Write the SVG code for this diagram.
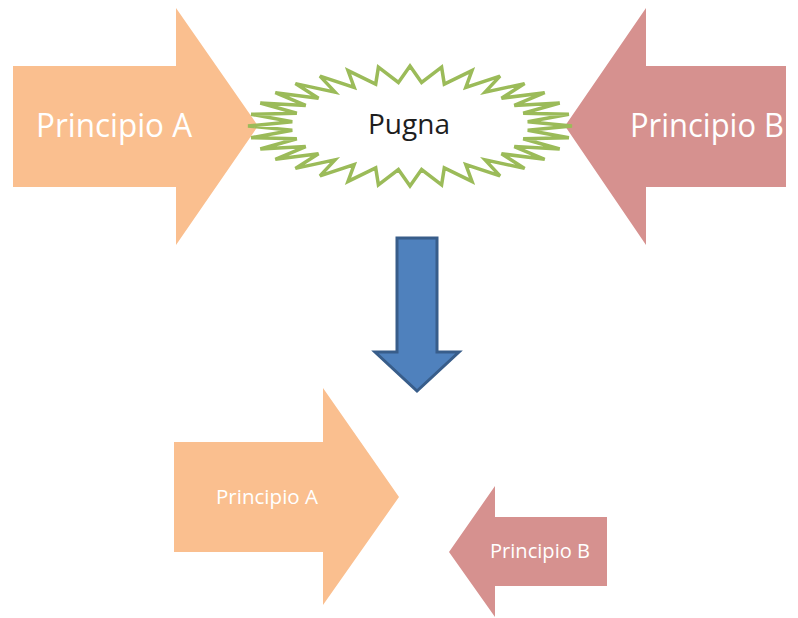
<svg xmlns="http://www.w3.org/2000/svg" width="798" height="618" viewBox="0 0 798 618">
  <style>
    .orange { fill: #FABF8F; }
    .pink { fill: #D6918F; }
    .lbl { font-family: "Open Sans", "Noto Sans", "Liberation Sans", sans-serif; fill: #FFFFFF; text-anchor: middle; }
    .big { font-size: 32px; }
    .small { font-size: 20.5px; }
    .burst { fill: #FFFFFF; stroke: #9BBB59; stroke-width: 3.5; stroke-linejoin: miter; }
    .dark { font-family: "Open Sans", "Noto Sans", "Liberation Sans", sans-serif; fill: #1E1E1E; text-anchor: middle; font-size: 28px; }
    .blue { fill: #4F81BD; stroke: #385D8A; stroke-width: 3; stroke-linejoin: miter; }
  </style>
  <rect width="798" height="618" fill="#FFFFFF"/>

  <g id="principio-a-top">
    <polygon class="orange" points="13,66 176,66 176,8 258,126 176,245 176,187 13,187"/>
    <text class="lbl big" x="114" y="137" textLength="156" lengthAdjust="spacingAndGlyphs">Principio A</text>
  </g>

  <g id="principio-b-top">
    <polygon class="pink" points="786,66 646,66 646,8 565,126 646,245 646,187 786,187"/>
    <text class="lbl big" x="707" y="137" textLength="154" lengthAdjust="spacingAndGlyphs">Principio B</text>
  </g>

  <g id="pugna">
    <polygon class="burst" points="410,66 421.6,82.4 441.6,67.2 444.3,84.1 472,70.6 465.8,87.4 500,76.1 485.1,92.1 524.6,83.6 501.5,98.2 544.7,92.7 514.3,105.4 559.7,103 523.2,113.3 568.9,114.3 527.7,121.7 572,126 527.7,130.3 568.9,137.7 523.2,138.7 559.7,149 514.3,146.6 544.7,159.3 501.5,153.8 524.6,168.4 485.1,159.9 500,175.9 465.8,164.6 472,181.4 444.3,167.9 441.6,184.8 421.6,169.6 410,186 398.4,169.6 378.4,184.8 375.7,167.9 348,181.4 354.2,164.6 320,175.9 335,159.9 295.4,168.4 318.5,153.8 275.3,159.3 305.7,146.6 260.3,149 296.8,138.7 251.1,137.7 292.3,130.3 248,126 292.3,121.7 251.1,114.3 296.8,113.3 260.3,103 305.7,105.4 275.3,92.7 318.5,98.2 295.4,83.6 335,92.1 320,76.1 354.2,87.4 348,70.6 375.7,84.1 378.4,67.2 398.4,82.4"/>
    <text class="dark" x="409" y="134">Pugna</text>
  </g>

  <g id="connectors">
    <polygon class="blue" points="397,238 437,238 437,352 459,352 417,391 375,352 397,352"/>
  </g>

  <g id="principio-a-bottom">
    <polygon class="orange" points="174,442 323,442 323,388 399,497 323,605 323,552 174,552"/>
    <text class="lbl small" x="267" y="504" textLength="102" lengthAdjust="spacingAndGlyphs">Principio A</text>
  </g>

  <g id="principio-b-bottom">
    <polygon class="pink" points="607,517 495,517 495,486 449,552 495,617 495,586 607,586"/>
    <text class="lbl small" x="540" y="558" textLength="100" lengthAdjust="spacingAndGlyphs">Principio B</text>
  </g>
</svg>
